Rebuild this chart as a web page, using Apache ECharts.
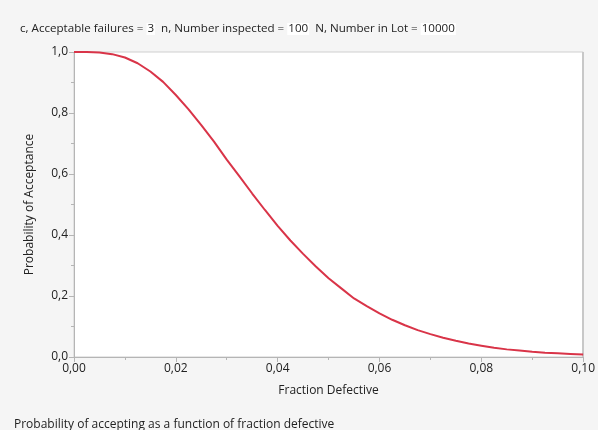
<!DOCTYPE html>
<html>
<head>
<meta charset="utf-8">
<script src="https://cdn.jsdelivr.net/npm/echarts@6/dist/echarts.min.js"></script>
<style>
  html, body { margin: 0; padding: 0; background: #f5f5f5; }
  #chart { width: 598px; height: 430px; }
</style>
</head>
<body>
<div id="chart"></div>
<script>
// Operating characteristic curve of the sampling plan
const acceptableFailures = 3;
const numberInspected = 100;
const numberInLot = 10000;

const fractionDefective = [
  0.0000, 0.0025, 0.0050, 0.0075, 0.0100, 0.0125, 0.0150, 0.0175, 0.0200, 0.0225,
  0.0250, 0.0275, 0.0300, 0.0325, 0.0350, 0.0375, 0.0400, 0.0425, 0.0450, 0.0475,
  0.0500, 0.0525, 0.0550, 0.0575, 0.0600, 0.0625, 0.0650, 0.0675, 0.0700, 0.0725,
  0.0750, 0.0775, 0.0800, 0.0825, 0.0850, 0.0875, 0.0900, 0.0925, 0.0950, 0.0975, 0.1000
];
const probAcceptance = [
  1.000, 1.000, 0.998, 0.993, 0.982, 0.963, 0.936, 0.902, 0.859, 0.812,
  0.760, 0.706, 0.647, 0.592, 0.536, 0.482, 0.430, 0.382, 0.338, 0.297,
  0.258, 0.225, 0.192, 0.167, 0.143, 0.122, 0.104, 0.088, 0.075, 0.063,
  0.053, 0.044, 0.037, 0.030, 0.025, 0.021, 0.017, 0.014, 0.012, 0.010, 0.008
];

const FONT = '"Open Sans", "Noto Sans", sans-serif';
const fmtComma = (v, d) => v.toFixed(d).replace('.', ',');

const chart = echarts.init(document.getElementById('chart'));
chart.setOption({
  backgroundColor: '#f5f5f5',
  animation: false,
  textStyle: { fontFamily: FONT },
  grid: {
    left: 74, right: 14, top: 52, bottom: 73,
    show: true, backgroundColor: '#ffffff', borderColor: '#cfcfcf', borderWidth: 1
  },
  graphic: [
    {
      type: 'text', left: 20, top: 23,
      style: {
        text: 'c, Acceptable failures = {v|' + acceptableFailures + '}  n, Number inspected = {v|' +
              numberInspected + '}  N, Number in Lot = {v|' + numberInLot + '}',
        font: '11.6px ' + FONT, fill: '#222',
        rich: { v: { backgroundColor: '#ffffff', font: '11.6px ' + FONT, fill: '#222', padding: [0, 1] } }
      }
    },
    {
      type: 'rect', shape: { x: 582, y: 52, width: 2, height: 305 },
      style: { fill: '#c8c8c8' }
    },
    {
      type: 'text', left: 14, top: 419,
      style: { text: 'Probability of accepting as a function of fraction defective',
               font: '12px ' + FONT, fill: '#222' }
    }
  ],
  xAxis: {
    type: 'value', min: 0, max: 0.1, interval: 0.02,
    name: 'Fraction Defective', nameLocation: 'middle', nameGap: 28,
    nameTextStyle: { fontSize: 12, color: '#222', fontFamily: FONT },
    axisLine: { show: true, lineStyle: { color: '#b5b5b5', width: 1 } },
    axisTick: { show: true, length: 5, lineStyle: { color: '#b5b5b5' } },
    minorTick: { show: true, splitNumber: 2, length: 3, lineStyle: { color: '#b5b5b5' } },
    splitLine: { show: false },
    axisLabel: { fontSize: 12, color: '#222', margin: 6, formatter: v => fmtComma(v, 2) }
  },
  yAxis: {
    type: 'value', min: 0, max: 1, interval: 0.2,
    name: 'Probability of Acceptance', nameLocation: 'middle', nameGap: 38,
    nameTextStyle: { fontSize: 12, color: '#222', fontFamily: FONT },
    axisLine: { show: true, lineStyle: { color: '#b5b5b5', width: 1 } },
    axisTick: { show: true, length: 5, lineStyle: { color: '#b5b5b5' } },
    minorTick: { show: true, splitNumber: 2, length: 3, lineStyle: { color: '#b5b5b5' } },
    splitLine: { show: false },
    axisLabel: { fontSize: 12, color: '#222', margin: 6, formatter: v => fmtComma(v, 1) }
  },
  series: [{
    type: 'line',
    data: fractionDefective.map((x, i) => [x, probAcceptance[i]]),
    showSymbol: false,
    smooth: false,
    lineStyle: { color: '#d93448', width: 2 },
    clip: false
  }]
});
</script>
</body>
</html>
